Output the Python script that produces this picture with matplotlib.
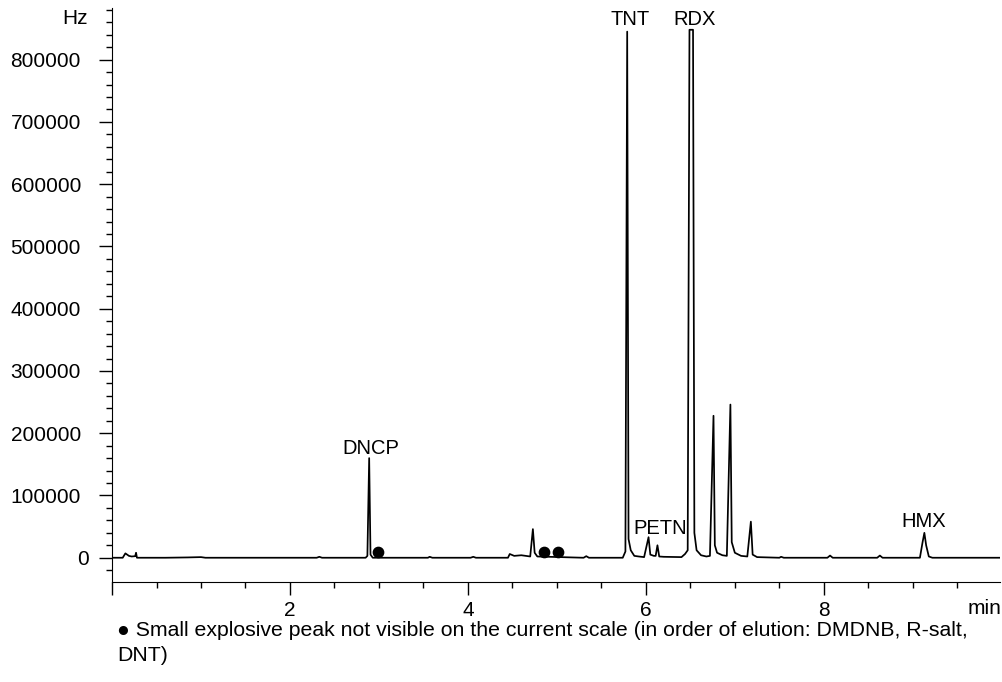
import matplotlib
matplotlib.use('Agg')
import matplotlib.pyplot as plt
import matplotlib.transforms as mtransforms
from matplotlib.ticker import MultipleLocator, FuncFormatter

plt.rcParams['font.family'] = ['Liberation Sans', 'DejaVu Sans']

# Chromatogram trace, vertices (min, Hz)
trace_time = [0.00, 0.12, 0.15, 0.19, 0.22, 0.26, 0.27, 0.28, 0.60, 0.85, 1.00, 1.05,
              1.70, 2.30, 2.33, 2.36, 2.85, 2.87, 2.89, 2.905, 2.93, 3.20, 3.55, 3.57,
              3.60, 4.03, 4.06, 4.09, 4.45, 4.47, 4.52, 4.60, 4.70, 4.73, 4.75, 4.78,
              5.30, 5.33, 5.36, 5.74, 5.77, 5.79, 5.805, 5.83, 5.87, 5.92, 5.98, 6.03,
              6.05, 6.09, 6.11, 6.13, 6.15, 6.20, 6.40, 6.44, 6.47, 6.49, 6.53, 6.545,
              6.57, 6.62, 6.68, 6.72, 6.76, 6.775, 6.80, 6.86, 6.91, 6.95, 6.965, 7.00,
              7.07, 7.14, 7.18, 7.20, 7.25, 7.50, 7.52, 7.55, 8.04, 8.07, 8.10, 8.60,
              8.63, 8.66, 9.08, 9.11, 9.13, 9.15, 9.18, 9.22, 9.98]
trace_signal = [0, 0, 7000, 3000, 2000, 2500, 8000, 0, 0, 500, 1000, 0,
                0, 0, 1500, 0, 0, 3000, 160000, 5000, 0, 0, 0, 1500,
                0, 0, 1500, 0, 0, 6000, 3000, 4000, 2000, 46000, 8000, 2000,
                0, 2500, 0, 0, 10000, 845000, 30000, 12000, 3000, 2000, 1000, 33000,
                5000, 3000, 3000, 20000, 2000, 1500, 1000, 6000, 12000, 848000, 848000, 40000,
                12000, 4000, 2000, 3000, 228000, 20000, 8000, 4000, 3000, 246000, 25000, 8000,
                3000, 2000, 58000, 5000, 1000, 0, 1500, 0, 0, 3500, 0, 0,
                3500, 0, 0, 25000, 40000, 20000, 2000, 0, 0]

# Small explosive peaks not visible on this scale
dot_time = [2.99, 4.85, 5.01]
dot_signal = [9000, 9000, 9000]

# Peak labels
peak_names = ['DNCP', 'TNT', 'PETN', 'RDX', 'HMX']
peak_label_time = [2.91, 5.82, 6.16, 6.55, 9.12]
peak_label_signal = [175000, 864000, 46600, 864000, 58000]

fig = plt.figure(figsize=(10.03, 6.82), dpi=100)
ax = fig.add_axes([0.1117, 0.1466, 0.8853, 0.8417])

ax.plot(trace_time, trace_signal, color='black', linewidth=1.25)
ax.scatter(dot_time, dot_signal, s=55, color='black', zorder=3)

for name, t, s in zip(peak_names, peak_label_time, peak_label_signal):
    ax.text(t, s, name, ha='center', va='center', fontsize=14.5)

ax.set_xlim(0, 9.98)
ax.set_ylim(-39000, 883000)

ax.spines['top'].set_visible(False)
ax.spines['right'].set_visible(False)

ax.xaxis.set_major_locator(MultipleLocator(2))
ax.xaxis.set_minor_locator(MultipleLocator(0.5))
ax.yaxis.set_major_locator(MultipleLocator(100000))
ax.yaxis.set_minor_locator(MultipleLocator(20000))
ax.xaxis.set_major_formatter(FuncFormatter(lambda v, p: '' if v == 0 else f'{v:g}'))
ax.yaxis.set_major_formatter(FuncFormatter(lambda v, p: f'{v:.0f}'))

ax.tick_params(axis='both', which='major', length=9.4, width=1, direction='out', labelsize=15)
ax.tick_params(axis='both', which='minor', length=4.4, width=1, direction='out')
ax.tick_params(axis='y', which='major', pad=13)
ax.tick_params(axis='x', which='major', pad=4)

# the "0" label sits a little further right in the reference
fig.canvas.draw()
for lab in ax.get_yticklabels():
    if lab.get_text() == '0':
        lab.set_transform(lab.get_transform() +
                          mtransforms.ScaledTranslation(8 / 100, 0, fig.dpi_scale_trans))

fig.text(75 / 1003, 1 - 19 / 682, 'Hz', ha='center', va='center', fontsize=15)
fig.text(985 / 1003, 1 - 608 / 682, 'min', ha='center', va='center', fontsize=15)

fig.text(117 / 1003, 1 - 643 / 682,
         '\u25cf Small explosive peak not visible on the current scale (in order of elution: DMDNB, R-salt,\nDNT)',
         ha='left', va='center', fontsize=15.3, linespacing=1.45)

fig.savefig('out.png', dpi=100)
